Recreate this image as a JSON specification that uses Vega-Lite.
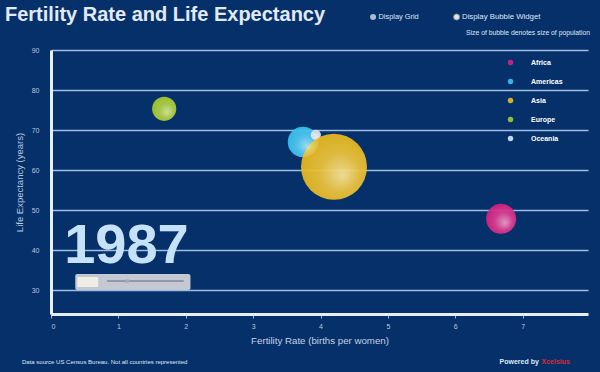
{
  "$schema": "https://vega.github.io/schema/vega-lite/v6.json",
  "width": 537,
  "height": 264,
  "autosize": {"type": "none"},
  "padding": {"left": 51, "top": 50, "right": 12, "bottom": 58},
  "background": "#06306a",
  "config": {"view": {"stroke": null}, "font": "Liberation Sans"},
  "title": {
    "text": "Fertility Rate and Life Expectancy",
    "anchor": "start",
    "frame": "group",
    "dx": -46,
    "offset": -13,
    "fontSize": 20,
    "fontWeight": "bold",
    "color": "#e2eaf6"
  },
  "datasets": {
    "regions": [
      {"region": "Americas", "fertility": 3.74, "life": 67.0, "population": 620},
      {"region": "Oceania", "fertility": 3.93, "life": 68.8, "population": 70},
      {"region": "Asia", "fertility": 4.2, "life": 60.8, "population": 2900},
      {"region": "Europe", "fertility": 1.68, "life": 75.3, "population": 390},
      {"region": "Africa", "fertility": 6.68, "life": 47.8, "population": 600}
    ],
    "year": [{"year": "1987"}]
  },
  "layer": [
    {
      "data": {"name": "regions"},
      "mark": {"type": "point", "filled": true, "opacity": 0.93, "strokeWidth": 0},
      "encoding": {
        "x": {
          "field": "fertility", "type": "quantitative",
          "scale": {"domain": [0, 7.97], "nice": false, "zero": false},
          "axis": {
            "title": "Fertility Rate (births per women)",
            "values": [0, 1, 2, 3, 4, 5, 6, 7],
            "format": "d",
            "grid": false,
            "domainColor": "#e8eef6", "domainWidth": 3,
            "tickColor": "#9cb6da", "tickSize": 4, "tickWidth": 1,
            "labelColor": "#b8c8de", "labelFontSize": 7, "labelPadding": 4,
            "titleColor": "#c4d2e6", "titleFontSize": 9.7, "titleFontWeight": "normal", "titlePadding": 6
          }
        },
        "y": {
          "field": "life", "type": "quantitative",
          "scale": {"domain": [24, 90], "nice": false, "zero": false},
          "axis": {
            "title": "Life Expectancy (years)",
            "values": [30, 40, 50, 60, 70, 80, 90],
            "format": "d",
            "grid": true, "gridColor": "#a0bce0", "gridWidth": 1.5,
            "ticks": false,
            "domainColor": "#e8eef6", "domainWidth": 3,
            "labelColor": "#b8c8de", "labelFontSize": 7, "labelPadding": 12,
            "titleColor": "#b8c8de", "titleFontSize": 9.5, "titleFontWeight": "normal", "titlePadding": 7
          }
        },
        "size": {
          "field": "population", "type": "quantitative",
          "scale": {"domain": [0, 2900], "range": [0, 4356], "zero": true},
          "legend": null
        },
        "color": {
          "field": "region", "type": "nominal",
          "scale": {
            "domain": ["Africa", "Americas", "Asia", "Europe", "Oceania"],
            "range": ["#d42080", "#36c0ee", "#eab91c", "#a6c82a", "#d4e0ee"]
          },
          "legend": {
            "title": null,
            "orient": "none",
            "legendX": 456,
            "legendY": 9,
            "padding": 0,
            "symbolType": "circle",
            "symbolSize": 30,
            "symbolStrokeWidth": 0,
            "labelColor": "#ffffff",
            "labelFontSize": 7,
            "labelFontWeight": "bold",
            "labelOffset": 17,
            "rowPadding": 11
          }
        }
      }
    },
    {
      "data": {"name": "regions"},
      "mark": {
        "type": "point", "filled": true, "strokeWidth": 0,
        "fill": {
          "gradient": "radial",
          "x1": 0.64, "y1": 0.64, "r1": 0,
          "x2": 0.55, "y2": 0.55, "r2": 0.55,
          "stops": [
            {"offset": 0, "color": "rgba(255,255,255,0.75)"},
            {"offset": 0.55, "color": "rgba(255,255,255,0.18)"},
            {"offset": 1, "color": "rgba(255,255,255,0)"}
          ]
        }
      },
      "encoding": {
        "x": {"field": "fertility", "type": "quantitative"},
        "y": {"field": "life", "type": "quantitative"},
        "size": {"field": "population", "type": "quantitative", "legend": null}
      }
    },
    {
      "data": {"name": "year"},
      "mark": {"type": "text", "fontSize": 56, "fontWeight": "bold", "color": "#c6e2f8", "align": "center", "baseline": "alphabetic"},
      "encoding": {
        "x": {"datum": 1.12},
        "y": {"datum": 36.8},
        "text": {"field": "year"}
      }
    },
    {
      "data": {"values": [{}]},
      "mark": {"type": "rect", "color": "#c4c8d2", "cornerRadius": 2},
      "encoding": {
        "x": {"datum": 0.36}, "x2": {"datum": 2.07},
        "y": {"datum": 34.0}, "y2": {"datum": 30.0}
      }
    },
    {
      "data": {"values": [{}]},
      "mark": {"type": "rect", "color": "#eeeee6", "cornerRadius": 1},
      "encoding": {
        "x": {"datum": 0.39}, "x2": {"datum": 0.7},
        "y": {"datum": 33.25}, "y2": {"datum": 30.75}
      }
    },
    {
      "data": {"values": [{}]},
      "mark": {"type": "rule", "color": "#9098aa", "strokeWidth": 2},
      "encoding": {
        "x": {"datum": 0.83}, "x2": {"datum": 1.97},
        "y": {"datum": 32.25}
      }
    },
    {
      "data": {"values": [{}]},
      "mark": {"type": "point", "shape": "square", "filled": true, "color": "#a8b0c0", "size": 20},
      "encoding": {
        "x": {"datum": 1.13},
        "y": {"datum": 32.25}
      }
    },
    {
      "data": {"values": [{}]},
      "mark": {"type": "point", "filled": true, "color": "#f4f6fa", "size": 36, "strokeWidth": 0},
      "encoding": {"x": {"datum": 4.78}, "y": {"datum": 98.25}}
    },
    {
      "data": {"values": [{}]},
      "mark": {"type": "point", "filled": true, "fill": "#e4e6d8", "stroke": "#8a94a8", "strokeWidth": 1, "size": 36, "opacity": 1},
      "encoding": {"x": {"datum": 6.02}, "y": {"datum": 98.25}}
    },
    {
      "data": {"values": [{}]},
      "mark": {"type": "text", "fontSize": 7.4, "color": "#dfe8f4", "align": "left", "baseline": "middle", "text": "Display Grid"},
      "encoding": {"x": {"datum": 4.86}, "y": {"datum": 98.25}}
    },
    {
      "data": {"values": [{}]},
      "mark": {"type": "text", "fontSize": 7.8, "color": "#dfe8f4", "align": "left", "baseline": "middle", "text": "Display Bubble Widget"},
      "encoding": {"x": {"datum": 6.1}, "y": {"datum": 98.25}}
    },
    {
      "data": {"values": [{}]},
      "mark": {"type": "text", "fontSize": 6.8, "color": "#dfe8f4", "align": "right", "baseline": "middle", "text": "Size of bubble denotes size of population"},
      "encoding": {"x": {"datum": 8.0}, "y": {"datum": 94.25}}
    },
    {
      "data": {"values": [{}]},
      "mark": {"type": "text", "fontSize": 6, "color": "#dfe8f4", "align": "left", "baseline": "middle", "text": "Data source US Census Bureau. Not all countries represented"},
      "encoding": {"x": {"datum": -0.43}, "y": {"datum": 12}}
    },
    {
      "data": {"values": [{}]},
      "mark": {"type": "text", "fontSize": 7, "fontWeight": "bold", "color": "#dfe8f4", "align": "right", "baseline": "middle", "text": "Powered by"},
      "encoding": {"x": {"datum": 7.24}, "y": {"datum": 12}}
    },
    {
      "data": {"values": [{}]},
      "mark": {"type": "text", "fontSize": 7, "fontWeight": "bold", "color": "#d42a3a", "align": "left", "baseline": "middle", "text": "Xcelsius"},
      "encoding": {"x": {"datum": 7.28}, "y": {"datum": 12}}
    }
  ]
}
